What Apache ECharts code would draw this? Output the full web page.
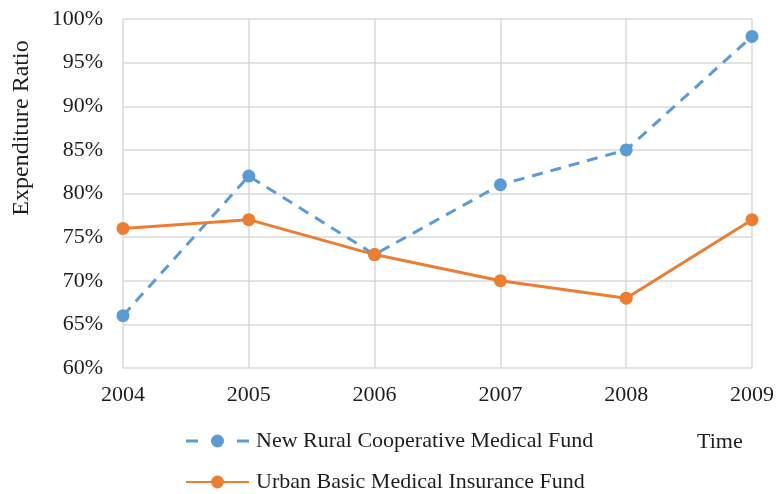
<!DOCTYPE html>
<html>
<head>
<meta charset="utf-8">
<script src="https://cdn.jsdelivr.net/npm/echarts@6/dist/echarts.min.js"></script>
<style>
    html, body { margin: 0; padding: 0; background: #fff; }
    #chart { width: 777px; height: 494px; }
</style>
</head>
<body>
<div id="chart"></div>
<script>
const years = ['2004', '2005', '2006', '2007', '2008', '2009'];
const ruralFund = [66, 82, 73, 81, 85, 98];
const urbanFund = [76, 77, 73, 70, 68, 77];
const seriesNames = ['New Rural Cooperative Medical Fund', 'Urban Basic Medical Insurance Fund'];

const serif = '"Liberation Serif", "DejaVu Serif", serif';
const textColor = '#1e1e1e';

// dash - dot - dash legend marker (63 x 16 box)
const dashDotIcon = 'path://M0,0h0.1v0.1h-0.1z M0,16h0.1v-0.1h-0.1z M0,6.5h12v3h-12z M51,6.5h12v3h-12z M25,8a6.5,6.5 0 1,0 13,0a6.5,6.5 0 1,0 -13,0z';

var myChart = echarts.init(document.getElementById('chart'));
var option = {
    animation: false,
    textStyle: { fontFamily: serif },
    grid: { left: 123, right: 25, top: 19, bottom: 126, containLabel: false },
    legend: {
        orient: 'vertical',
        left: 185,
        top: 430,
        padding: 0,
        itemWidth: 63,
        itemHeight: 16,
        itemGap: 19,
        textStyle: { fontFamily: serif, fontSize: 22, lineHeight: 22, color: textColor, padding: [0, 0, 0, 2] },
        data: [
            { name: seriesNames[0], icon: dashDotIcon },
            { name: seriesNames[1] }
        ]
    },
    graphic: [
        {
            type: 'text',
            left: 697,
            top: 431,
            style: { text: 'Time', font: '22px ' + serif, fill: textColor }
        },
        {
            // y axis title, sits above the axis centre in the reference
            type: 'text',
            x: 22,
            y: 128,
            rotation: Math.PI / 2,
            style: {
                text: 'Expenditure Ratio',
                font: '24px ' + serif,
                fill: textColor,
                align: 'center',
                verticalAlign: 'middle'
            }
        }
    ],
    xAxis: {
        type: 'category',
        boundaryGap: false,
        data: years,
        axisLine: { show: false },
        axisTick: { show: false },
        axisLabel: { fontSize: 22, color: textColor, margin: 16, fontFamily: serif },
        splitLine: { show: true, lineStyle: { color: '#d9d9d9', width: 1.5 } }
    },
    yAxis: {
        type: 'value',
        min: 60,
        max: 100,
        interval: 5,
        axisLine: { show: false },
        axisTick: { show: false },
        axisLabel: { formatter: '{value}%', fontSize: 22, color: textColor, margin: 20, fontFamily: serif },
        splitLine: { show: true, lineStyle: { color: '#d9d9d9', width: 1.5 } }
    },
    series: [
        {
            name: seriesNames[0],
            type: 'line',
            data: ruralFund,
            symbol: 'circle',
            symbolSize: 13,
            itemStyle: { color: '#5b9bd5' },
            lineStyle: { color: '#5b9bd5', width: 3, type: [11, 8] }
        },
        {
            name: seriesNames[1],
            type: 'line',
            data: urbanFund,
            symbol: 'circle',
            symbolSize: 13,
            itemStyle: { color: '#ed7d31' },
            lineStyle: { color: '#ed7d31', width: 3 }
        }
    ]
};
myChart.setOption(option);
</script>
</body>
</html>
